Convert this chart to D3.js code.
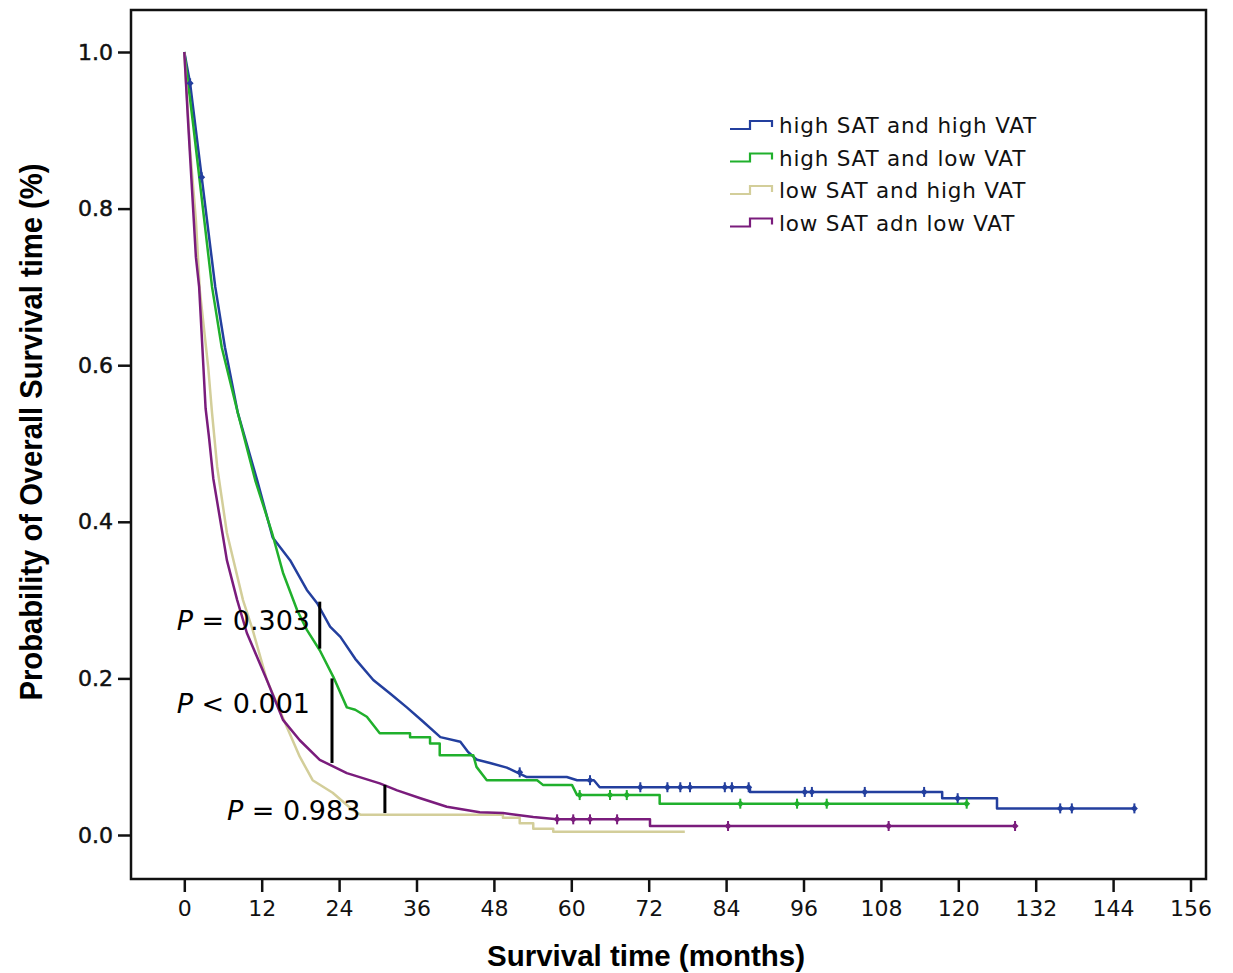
<!DOCTYPE html>
<html>
<head>
<meta charset="utf-8">
<script src="https://cdn.jsdelivr.net/npm/d3@7"></script>
<style>
	body { margin:0; background:#fff; }
	svg { display:block; }
	.tick text { font-family:'DejaVu Sans', sans-serif; fill:#111; }
	.tick line { stroke:#111; stroke-width:2.5; }
	.curve { fill:none; stroke-width:2.5; stroke-linejoin:round; }
</style>
</head>
<body>
<div id="chart"></div>
<script>
// survival curves, [months, probability] vertices
var highHigh = [[0,1],[0.9,0.96],[2.7,0.84],[4.8,0.70],[6.3,0.623],[8.3,0.539],[11.3,0.453],[13.7,0.38],[16.4,0.351],[19.0,0.313],[20.6,0.296],[22.6,0.266],[24.2,0.253],[26.5,0.225],[29.3,0.198],[32,0.18],[34.5,0.163],[37,0.145],[39.7,0.125],[42.8,0.119],[44.0,0.106],[45.4,0.096],[47.4,0.092],[50.0,0.086],[53.1,0.074],[59.3,0.074],[60.9,0.070],[63.5,0.070],[64.4,0.061],[87.7,0.061],[87.7,0.055],[117.5,0.055],[117.5,0.047],[126,0.047],[126,0.034],[147.3,0.034]];
var highLow = [[0,1],[1.35,0.909],[4.3,0.70],[5.8,0.623],[8.3,0.539],[11.0,0.453],[13.6,0.386],[15.3,0.335],[17.5,0.287],[19.0,0.262],[21.0,0.236],[23.1,0.202],[25.2,0.163],[26.5,0.160],[28.3,0.151],[30.3,0.130],[35.0,0.130],[35.0,0.125],[38.1,0.125],[38.1,0.117],[39.6,0.117],[39.6,0.102],[44.8,0.102],[45.3,0.087],[46.9,0.070],[54.7,0.070],[55.6,0.064],[60.1,0.064],[60.9,0.051],[73.7,0.051],[73.7,0.040],[121.3,0.040]];
var lowHigh = [[0,1],[0.9,0.875],[1.8,0.785],[2.4,0.696],[3.7,0.598],[4.3,0.539],[5.1,0.470],[6.6,0.386],[9.1,0.300],[10.6,0.262],[12.8,0.198],[15.9,0.138],[17.9,0.100],[19.9,0.070],[23.0,0.054],[26.1,0.032],[27.3,0.026],[49.4,0.026],[49.4,0.022],[52.0,0.022],[52.0,0.015],[54.1,0.015],[54.1,0.008],[57.2,0.008],[57.2,0.004],[77.6,0.004]];
var lowLow = [[0,1],[0.6,0.909],[1.2,0.824],[1.8,0.738],[2.3,0.700],[2.8,0.623],[3.3,0.545],[3.8,0.510],[4.5,0.455],[5.9,0.386],[6.6,0.351],[8.2,0.300],[9.7,0.258],[12.8,0.198],[15.3,0.147],[17.9,0.121],[21.0,0.096],[25.2,0.079],[30.3,0.066],[33.0,0.057],[36.6,0.047],[40.7,0.036],[45.8,0.029],[49.4,0.028],[54.1,0.023],[57.8,0.020],[72.2,0.020],[72.2,0.0115],[128.8,0.0115]];

// censored cases
var highHighCens = [[0.9,0.96],[2.7,0.84],[52,0.080],[62.9,0.070],[70.7,0.061],[74.9,0.061],[76.9,0.061],[78.4,0.061],[83.8,0.061],[84.9,0.061],[87.5,0.061],[96.2,0.055],[97.3,0.055],[105.5,0.055],[114.7,0.055],[119.9,0.047],[135.8,0.034],[137.6,0.034],[147.3,0.034]];
var highLowCens = [[61.3,0.051],[66.0,0.051],[68.6,0.051],[86.2,0.040],[95.0,0.040],[99.6,0.040],[121.3,0.040]];
var lowHighCens = [];
var lowLowCens = [[57.8,0.020],[60.3,0.020],[62.9,0.020],[67.1,0.020],[84.3,0.0115],[109.2,0.0115],[128.8,0.0115]];

var groups = ['high SAT and high VAT','high SAT and low VAT','low SAT and high VAT','low SAT adn low VAT'];
var colors = ['#233f9e','#20b02c','#d3ce9a','#7a1c7c'];

var xTicks = [0,12,24,36,48,60,72,84,96,108,120,132,144,156];
var yTicks = [0,0.2,0.4,0.6,0.8,1.0];

// p-value brackets: [month, from, to, label, labelMonth, labelProb]
var pMarks = [
	[21.0,0.298,0.238,'= 0.303',19.5,0.262],
	[22.9,0.200,0.092,'< 0.001',19.5,0.156],
	[31.1,0.064,0.028,'= 0.983',27.3,0.019]
];

var W = 1233, H = 973,
	svg = d3.select('#chart').append('svg').attr('width',W).attr('height',H),
	x = d3.scaleLinear().domain([0,156]).range([184.3,1190.5]),
	y = d3.scaleLinear().domain([0,1]).range([835,52]),
	box = {l:131,t:10,r:1206,b:879};

var series = [highHigh,highLow,lowHigh,lowLow],
	cens = [highHighCens,highLowCens,lowHighCens,lowLowCens];

// axes
var xAxis = svg.append('g')
	.attr('transform','translate(0,'+box.b+')')
	.call(d3.axisBottom(x).tickValues(xTicks).tickSize(13).tickPadding(8));
xAxis.select('.domain').remove();
xAxis.selectAll('text').style('font-size','22px');

var yAxis = svg.append('g')
	.attr('transform','translate('+box.l+',0)')
	.call(d3.axisLeft(y).tickValues(yTicks).tickFormat(d3.format('.1f')).tickSize(13).tickPadding(5));
yAxis.select('.domain').remove();
yAxis.selectAll('text').style('font-size','22px').attr('stroke','#111').attr('stroke-width',0.5);

svg.append('rect')
	.attr('x',box.l).attr('y',box.t)
	.attr('width',box.r-box.l).attr('height',box.b-box.t)
	.attr('fill','none').attr('stroke','#111').attr('stroke-width',2.5);

// curves
var line = d3.line()
	.x(function(d){ return x(d[0]); })
	.y(function(d){ return y(d[1]); });

var plot = svg.append('g').attr('id','curves');
plot.selectAll('.curve')
	.data(series)
	.enter()
	.append('path')
		.classed('curve',true)
		.attr('stroke',function(d,i){ return colors[i]; })
		.attr('d',line);

// censor marks
cens.forEach(function(c,i){
	var g = plot.append('g').attr('fill',colors[i]).attr('stroke',colors[i]);
	var m = g.selectAll('g')
		.data(c)
		.enter()
		.append('g')
			.attr('transform',function(d){ return 'translate('+x(d[0])+','+y(d[1])+')'; });
	m.append('line').attr('y1',-5).attr('y2',5).attr('stroke-width',2);
	m.append('path').attr('d','M0,-3.5L3.5,0L0,3.5L-3.5,0Z').attr('stroke','none');
});

// p-value annotations
var ann = svg.append('g').attr('id','pvalues');
ann.selectAll('line')
	.data(pMarks)
	.enter()
	.append('line')
		.attr('x1',function(d){ return x(d[0]); })
		.attr('x2',function(d){ return x(d[0]); })
		.attr('y1',function(d){ return y(d[1]); })
		.attr('y2',function(d){ return y(d[2]); })
		.attr('stroke','#000').attr('stroke-width',3);
var pt = ann.selectAll('text')
	.data(pMarks)
	.enter()
	.append('text')
		.attr('x',function(d){ return x(d[4]); })
		.attr('y',function(d){ return y(d[5]); })
		.attr('text-anchor','end')
		.style('font-family',"'DejaVu Sans', sans-serif")
		.style('font-size','27px')
		.attr('fill','#000');
pt.append('tspan').style('font-style','italic').text('P');
pt.append('tspan').text(function(d){ return ' '+d[3]; });

// legend
var leg = svg.append('g').attr('transform','translate(730,125)');
var li = leg.selectAll('g')
	.data(groups)
	.enter()
	.append('g')
		.attr('transform',function(d,i){ return 'translate(0,'+(i*32.5)+')'; });
li.append('path')
	.attr('d','M0,4H20V-4H42V2')
	.attr('fill','none')
	.attr('stroke-width',2.2)
	.attr('stroke',function(d,i){ return colors[i]; });
li.append('text')
	.attr('x',49).attr('y',8)
	.style('font-family',"'DejaVu Sans', sans-serif")
	.style('font-size','21.5px')
	.style('letter-spacing','0.8px')
	.attr('fill','#111')
	.text(function(d){ return d; });

// axis titles
svg.append('text')
	.attr('x',646).attr('y',966)
	.attr('text-anchor','middle')
	.attr('textLength',318).attr('lengthAdjust','spacingAndGlyphs')
	.style('font-family',"'Liberation Sans', Arial, sans-serif")
	.style('font-weight','bold').style('font-size','30px')
	.text('Survival time (months)');
svg.append('text')
	.attr('transform','translate(42,432) rotate(-90)')
	.attr('text-anchor','middle')
	.attr('textLength',537).attr('lengthAdjust','spacingAndGlyphs')
	.style('font-family',"'Liberation Sans', Arial, sans-serif")
	.style('font-weight','bold').style('font-size','32px')
	.text('Probability of Overall Survival time (%)');
</script>
</body>
</html>
